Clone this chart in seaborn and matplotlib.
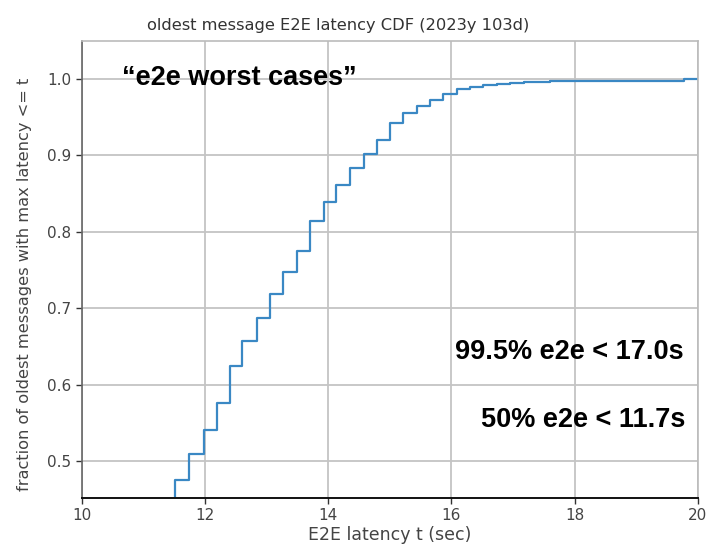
import matplotlib
matplotlib.use("Agg")
import matplotlib.pyplot as plt
import numpy as np
import pandas as pd
import seaborn as sns

# step positions (sec) and the CDF level reached at each step
latency_t = [11.31, 11.52, 11.75, 11.98, 12.19, 12.40, 12.60, 12.84, 13.05,
             13.27, 13.50, 13.71, 13.93, 14.13, 14.36, 14.58, 14.79, 15.00,
             15.22, 15.44, 15.66, 15.87, 16.09, 16.30, 16.52, 16.74, 16.95,
             17.18, 17.60, 19.77, 20.20]
cdf = [0.440, 0.475, 0.510, 0.541, 0.576, 0.625, 0.657, 0.688, 0.719,
       0.747, 0.775, 0.814, 0.839, 0.861, 0.884, 0.902, 0.920, 0.943,
       0.956, 0.965, 0.973, 0.980, 0.987, 0.990, 0.992, 0.9935, 0.995,
       0.996, 0.998, 1.000, 1.000]

x_ticks = [10, 12, 14, 16, 18, 20]
y_ticks = [0.5, 0.6, 0.7, 0.8, 0.9, 1.0]

df = pd.DataFrame({"t": latency_t, "cdf": cdf})

sns.set_theme(style="whitegrid", rc={
    "axes.edgecolor": "#bbbbbb",
    "grid.color": "#c4c4c4",
    "grid.linewidth": 1.3,
    "xtick.bottom": True,
    "ytick.left": True,
    "xtick.color": "#333333",
    "ytick.color": "#333333",
    "xtick.labelcolor": "#444444",
    "ytick.labelcolor": "#444444",
})
plt.rcParams["font.family"] = ["DejaVu Sans"]

fig = plt.figure(figsize=(7.1, 5.52), dpi=100)
ax = fig.add_axes([0.115, 0.098, 0.868, 0.828])

sns.lineplot(data=df, x="t", y="cdf", ax=ax, drawstyle="steps-post",
             color="#3a88c4", linewidth=1.6, estimator=None)

ax.set_xlim(10, 20)
ax.set_ylim(0.452, 1.05)
ax.set_xticks(x_ticks)
ax.set_yticks(y_ticks)
ax.tick_params(labelsize=11, length=4, width=1)
ax.spines["bottom"].set_color("#111111")
ax.spines["bottom"].set_linewidth(1.4)
ax.spines["left"].set_color("#666666")
ax.spines["left"].set_linewidth(1.2)
ax.spines["top"].set_linewidth(1.2)
ax.spines["right"].set_linewidth(1.2)

ax.set_title("oldest message E2E latency CDF (2023y 103d)", fontsize=11.7,
             color="#333333", x=0.416, pad=8)
ax.set_xlabel("E2E latency t (sec)", fontsize=12.5, color="#444444", labelpad=2)
ax.set_ylabel("fraction of oldest messages with max latency <= t",
              fontsize=11.7, color="#444444")
ax.yaxis.set_label_coords(-0.08, 0.468)

bold = dict(family=["Liberation Sans", "DejaVu Sans"], fontweight="bold",
            fontsize=19.5, color="black")
ax.text(0.065, 0.919, "\u201ce2e worst cases\u201d", transform=ax.transAxes,
        ha="left", va="center", **bold)
ax.text(0.976, 0.319, "99.5% e2e < 17.0s", transform=ax.transAxes,
        ha="right", va="center", **bold)
ax.text(0.98, 0.171, "50% e2e < 11.7s", transform=ax.transAxes,
        ha="right", va="center", **bold)

fig.savefig("out.png", dpi=100)
